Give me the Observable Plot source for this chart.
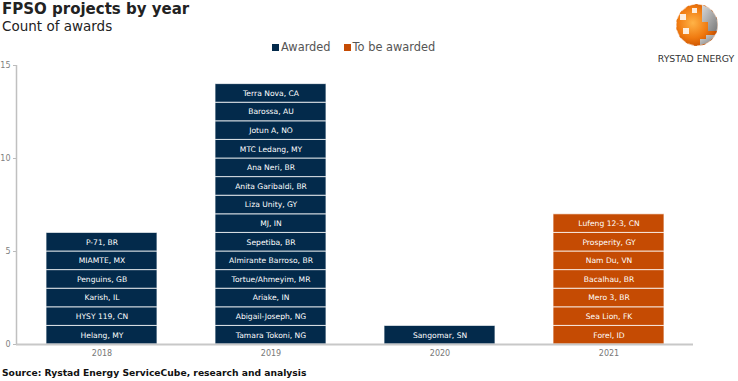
<!DOCTYPE html>
<html>
<head>
<meta charset="utf-8">
<script src="https://cdn.jsdelivr.net/npm/d3@7"></script>
<script src="https://cdn.jsdelivr.net/npm/@observablehq/plot@0.6"></script>
<style>
  html, body { margin: 0; padding: 0; background: #fff; }
  body { width: 738px; height: 381px; position: relative; overflow: hidden; font-family: "DejaVu Sans", Verdana, sans-serif; }
  #title { position: absolute; left: 2px; top: 1px; font-size: 15px; line-height: 17px; font-weight: bold; color: #222; }
  #subtitle { position: absolute; left: 2px; top: 18px; font-size: 13.5px; line-height: 16px; color: #222; }
  #legend { position: absolute; left: 272px; top: 40px; font-size: 11.4px; color: #555; display: flex; align-items: center; white-space: nowrap; }
  #legend .sw { display: inline-block; width: 7px; height: 7px; margin-right: 2px; }
  #legend .item { display: flex; align-items: center; margin-right: 13px; }
  #chart { position: absolute; left: 0; top: 50px; }
  #caption { position: absolute; left: 2px; top: 367px; font-size: 9.2px; font-weight: bold; color: #111; }
  #logo { position: absolute; left: 650px; top: 0px; }
</style>
</head>
<body>
<div id="title">FPSO projects by year</div>
<div id="subtitle">Count of awards</div>
<div id="legend"></div>
<div id="chart"></div>
<div id="caption">Source: Rystad Energy ServiceCube, research and analysis</div>
<svg id="logo" width="88" height="68" viewBox="0 0 88 68">
  <defs>
    <radialGradient id="og" cx="40%" cy="45%" r="60%">
      <stop offset="0%" stop-color="#ffb347"/>
      <stop offset="60%" stop-color="#f07a10"/>
      <stop offset="100%" stop-color="#c85000"/>
    </radialGradient>
    <linearGradient id="gg" x1="0" x2="1" y1="0" y2="1">
      <stop offset="0%" stop-color="#d8d8d8"/>
      <stop offset="100%" stop-color="#7a7a7a"/>
    </linearGradient>
  </defs>
  <circle cx="47" cy="25" r="21" fill="url(#og)"/>
  <path d="M52 5 A21 21 0 0 1 67 31 L58 31 L58 22 L52 22 Z" fill="url(#gg)"/>
  <path d="M56 35 L65 35 A21 21 0 0 1 50 45 L50 39 L56 39 Z" fill="url(#gg)"/>
  <path d="M30 14 L36 14 L36 20 L30 20 Z M33 28 L39 28 L39 34 L33 34 Z M42 8 L47 8 L47 13 L42 13 Z" fill="#fff" opacity="0.85"/>
  <circle cx="47" cy="25" r="21" fill="none" stroke="#fff" stroke-width="1.5" stroke-dasharray="6 3" opacity="0.6"/>
  <text x="46" y="62" text-anchor="middle" font-family="DejaVu Sans, sans-serif" font-size="9.3" fill="#333">RYSTAD ENERGY</text>
</svg>
<script>
const years = ["2018", "2019", "2020", "2021"];
const statuses = ["Awarded", "To be awarded"];
const colors = ["#032a4b", "#c54b03"];
const yTicks = [0, 5, 10, 15];

// projects listed bottom to top within each year
const projects2018 = ["Helang, MY", "HYSY 119, CN", "Karish, IL", "Penguins, GB", "MIAMTE, MX", "P-71, BR"];
const projects2019 = ["Tamara Tokoni, NG", "Abigail-Joseph, NG", "Ariake, IN", "Tortue/Ahmeyim, MR", "Almirante Barroso, BR", "Sepetiba, BR", "MJ, IN", "Liza Unity, GY", "Anita Garibaldi, BR", "Ana Neri, BR", "MTC Ledang, MY", "Jotun A, NO", "Barossa, AU", "Terra Nova, CA"];
const projects2020 = ["Sangomar, SN"];
const projects2021 = ["Forel, ID", "Sea Lion, FK", "Mero 3, BR", "Bacalhau, BR", "Nam Du, VN", "Prosperity, GY", "Lufeng 12-3, CN"];
const status2018 = "Awarded", status2019 = "Awarded", status2020 = "Awarded", status2021 = "To be awarded";

const rows = [];
[[projects2018, "2018", status2018], [projects2019, "2019", status2019], [projects2020, "2020", status2020], [projects2021, "2021", status2021]]
  .forEach(([list, year, status]) => list.forEach(name => rows.push({year, name, status, count: 1})));

// legend
const legend = document.getElementById("legend");
statuses.forEach((s, i) => {
  const it = document.createElement("span");
  it.className = "item";
  it.innerHTML = `<span class="sw" style="background:${colors[i]}"></span>${s}`;
  legend.appendChild(it);
});

const chart = Plot.plot({
  width: 738,
  height: 314,
  marginLeft: 16,
  marginRight: 45,
  marginTop: 15,
  marginBottom: 20,
  style: { fontFamily: "DejaVu Sans, Verdana, sans-serif", background: "transparent" },
  x: { domain: years, paddingInner: 0.345, paddingOuter: 0.1725, label: null },
  y: { domain: [0, 15], label: null },
  color: { domain: statuses, range: colors },
  marks: [
    Plot.barY(rows, Plot.stackY({ x: "year", y: "count", fill: "status", stroke: "#ffffff", strokeOpacity: 0.75, strokeWidth: 1 })),
    Plot.text(rows, Plot.stackY({ x: "year", y: "count", text: "name", fill: "white", fontSize: 7.6 })),
    Plot.ruleY([0], { stroke: "#c8c8c8", strokeWidth: 2 }),
    Plot.axisY({ ticks: yTicks, tickSize: 3, tickPadding: 3, fontSize: 8, stroke: "#bbbbbb", color: "#808080", label: null }),
    Plot.axisX({ tickSize: 0, tickPadding: 6, fontSize: 8, color: "#777777", label: null })
  ]
});
document.getElementById("chart").appendChild(chart);

// y axis line along the left edge of the frame
const yS = chart.scale("y");
d3.select(chart).append("line")
  .attr("x1", 16.5).attr("x2", 16.5)
  .attr("y1", yS.apply(15)).attr("y2", yS.apply(0))
  .attr("stroke", "#c0c0c0").attr("stroke-width", 1.5);
</script>
</body>
</html>
